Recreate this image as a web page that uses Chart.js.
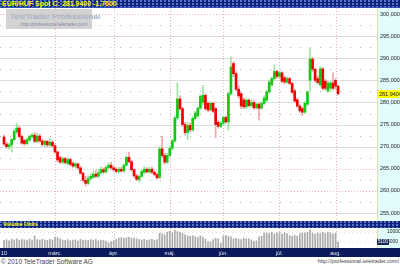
<!DOCTYPE html>
<html>
<head>
<meta charset="utf-8">
<script src="https://cdn.jsdelivr.net/npm/chart.js@4.4.1/dist/chart.umd.min.js"></script>
<style>
  html, body { margin: 0; padding: 0; background: #fff; }
  #wrap { position: relative; width: 400px; height: 266px; overflow: hidden; font-family: "Liberation Sans", Arial, sans-serif; }
  .navy { position: absolute; left: 0; width: 400px; background-color: #0d2278;
          background-image: radial-gradient(circle at 1px 1px, #5a72cc 0.7px, transparent 1px); background-size: 4px 3px; }
  #title { top: 0; height: 8px; border-bottom: 1px solid #3050b8; box-sizing: border-box; }
  #title span { position: absolute; left: 2px; top: 0; font: bold 7px "Liberation Sans", Arial, sans-serif; color: #ffff00; line-height: 7px; white-space: nowrap; }
  #plotBg { position: absolute; left: 0; top: 8px; width: 378px; height: 213px; background: #fff; }
  .panel { position: absolute; left: 377px; width: 22px; background: #e2fbfd; border-left: 1px solid #e6e0a0; border-right: 1px solid #0d2278; }
  #volHead { top: 221px; height: 7px; }
  #volHead span { position: absolute; left: 3px; top: 0; font: bold 5.5px "Liberation Sans", Arial, sans-serif; color: #ffff00; line-height: 7px; white-space: nowrap; }
  #volBg { position: absolute; left: 0; top: 228px; width: 378px; height: 20px; background: #fff; }
  #xBand { position: absolute; left: 0; top: 248px; width: 400px; height: 9px; background: #0a1a5c; }
  #mark { position: absolute; left: 6px; top: 9px; width: 86px; height: 20px; background: #d3d3d3; white-space: nowrap; }
  #mark b { position: absolute; left: 4px; top: 3px; font: bold 8px "Liberation Sans", Arial, sans-serif; color: #a6b0c6; }
  #mark i { position: absolute; left: 15px; top: 13px; font: normal 4.5px "Liberation Sans", Arial, sans-serif; color: #7f889e; }
  #footL, #footR { position: absolute; top: 258px; color: #444; white-space: nowrap; }
  #footL { left: 1px; font: 6.5px "Liberation Sans", Arial, sans-serif; }
  #footR { right: 1px; font: 5.5px "Liberation Sans", Arial, sans-serif; }
  canvas { position: absolute; left: 0; }
</style>
</head>
<body>
<div id="wrap">
  <div id="plotBg"></div>
  <div class="panel" style="top:8px;height:213px"></div>
  <div id="mark"><b>TeleTrader Professional</b><i>http://professional.teletrader.com/</i></div>
  <div id="volBg"></div>
  <div class="panel" style="top:228px;height:20px"></div>
  <div id="xBand"></div>
  <div class="navy" id="title"><span id="titleText"></span></div>
  <div class="navy" id="volHead"><span>Volume Units</span></div>
  <canvas id="price" width="400" height="213" style="top:8px"></canvas>
  <canvas id="vol" width="400" height="29" style="top:228px"></canvas>
  <div id="footL">© 2010 TeleTrader Software AG</div>
  <div id="footR">http://professional.teletrader.com/</div>
</div>
<script>
'use strict';

// daily EUR/HUF candles, 1 Feb – 3 Aug 2010
const openP = [
  272.2, 270.6, 270.0, 270.4, 271.6, 273.3, 274.2, 272.3, 271.4, 270.7, 271.5, 272.3, 272.6, 271.2, 272.4, 271.3, 270.5, 271.2, 270.4, 271.0,
  270.2, 268.8, 267.5, 266.5, 267.3, 266.2, 267.1, 266.2, 265.6, 266.1, 265.2, 264.0, 262.4, 261.7, 262.8, 263.1, 263.8, 263.3, 264.1, 264.8, 264.3, 265.3, 265.8,
  265.2, 264.9, 264.4, 264.9, 264.5, 265.8, 267.6, 266.6, 264.8, 263.4, 262.6, 263.3, 264.2, 264.9, 264.3, 264.9, 264.2, 263.7, 263.0, 269.5, 268.0, 266.5,
  268.0, 269.6, 271.3, 276.5, 280.8, 278.6, 275.0, 273.2, 274.8, 273.8, 276.4, 277.0, 278.7, 280.0, 281.6, 279.8, 278.3, 279.8, 278.6, 275.5, 274.6,
  275.3, 276.6, 275.6, 282.0, 288.8, 286.5, 283.0, 282.0, 280.6, 279.0, 280.5, 279.3, 280.0, 278.8, 279.6, 278.7, 279.8, 280.5, 282.4, 284.0, 285.4, 287.0,
  285.9, 286.7, 285.6, 284.6, 285.4, 284.3, 282.6, 280.6, 279.2, 278.6, 277.8, 279.6, 285.0, 289.8, 287.5, 285.4, 284.0, 287.6, 284.8, 282.6, 283.2, 284.4, 285.0, 283.7
];
const highP = [
  272.6, 271.0, 270.8, 271.9, 274.0, 275.3, 274.6, 272.6, 271.6, 272.0, 272.7, 273.0, 273.2, 273.0, 272.8, 271.6, 271.5, 271.4, 271.9, 271.5,
  270.5, 269.0, 267.8, 267.7, 267.6, 267.5, 267.3, 266.6, 266.5, 266.3, 265.5, 264.2, 263.3, 263.4, 263.9, 264.5, 264.6, 264.9, 265.4, 265.2, 265.6, 266.4, 266.5,
  265.6, 265.3, 265.3, 265.4, 266.2, 267.9, 268.8, 266.9, 265.0, 263.7, 263.6, 264.7, 265.5, 265.3, 265.3, 265.4, 264.6, 264.0, 270.0, 272.4, 268.5, 268.5,
  270.2, 271.7, 277.0, 284.4, 281.5, 279.0, 275.5, 275.5, 275.4, 276.8, 278.0, 279.0, 281.8, 283.9, 282.0, 280.2, 280.2, 280.1, 278.9, 275.9, 275.7,
  277.0, 276.9, 282.4, 290.3, 289.2, 286.9, 283.8, 282.3, 281.0, 281.0, 280.9, 280.6, 280.4, 280.0, 280.0, 280.2, 281.5, 282.8, 285.0, 285.8, 288.5, 287.3,
  287.1, 287.0, 286.0, 285.8, 285.7, 284.6, 283.0, 281.0, 279.5, 279.0, 280.2, 282.6, 292.3, 290.2, 287.8, 286.0, 288.1, 287.9, 285.2, 284.8, 284.8, 286.7, 285.4, 283.9
];
const lowP = [
  270.2, 269.6, 269.4, 268.8, 271.3, 272.8, 271.9, 270.5, 270.2, 270.4, 271.2, 271.8, 270.9, 270.9, 271.0, 270.1, 270.0, 269.9, 270.0, 269.8,
  268.5, 266.6, 266.2, 266.1, 266.0, 265.9, 265.7, 265.3, 265.2, 264.9, 263.8, 262.0, 261.1, 261.4, 262.4, 262.8, 263.0, 263.0, 263.8, 263.9, 264.0, 265.0, 264.9,
  264.4, 264.1, 264.0, 264.2, 264.2, 265.6, 266.3, 264.4, 263.0, 262.3, 262.0, 263.0, 263.9, 264.0, 264.0, 263.9, 263.4, 262.6, 262.8, 267.5, 266.0, 266.2,
  267.6, 269.2, 271.0, 276.0, 278.2, 274.6, 272.6, 271.6, 273.4, 273.5, 276.0, 276.7, 278.4, 279.5, 278.2, 277.9, 278.0, 277.7, 272.0, 274.2, 274.3,
  275.0, 275.3, 273.8, 281.6, 285.8, 282.6, 281.0, 278.6, 278.6, 278.6, 279.0, 279.0, 278.4, 278.4, 276.0, 278.5, 279.5, 280.2, 282.1, 283.6, 285.0, 285.5,
  285.4, 284.5, 284.2, 284.3, 284.0, 282.0, 280.0, 278.8, 277.7, 277.1, 277.5, 279.3, 282.6, 287.0, 284.6, 284.1, 283.5, 282.8, 282.8, 282.2, 282.4, 282.8, 283.0, 281.7
];
const closeP = [
  270.6, 270.0, 270.4, 271.6, 273.4, 274.2, 272.3, 270.8, 270.7, 271.6, 272.3, 272.6, 271.2, 272.4, 271.3, 270.5, 271.2, 270.4, 271.0, 270.2,
  268.8, 267.0, 266.5, 267.3, 266.4, 267.1, 266.0, 265.6, 266.1, 265.2, 264.0, 262.4, 261.7, 262.8, 263.3, 263.8, 263.3, 264.1, 264.8, 264.3, 265.3, 265.8, 265.2,
  264.8, 264.4, 264.9, 264.5, 265.8, 267.6, 266.6, 264.8, 263.4, 262.6, 263.3, 264.4, 264.9, 264.3, 264.9, 264.2, 263.7, 263.0, 269.5, 268.0, 266.5, 268.0,
  269.6, 271.3, 276.5, 280.8, 278.6, 275.0, 273.2, 274.8, 273.8, 276.4, 277.6, 278.7, 281.4, 281.6, 278.6, 278.3, 279.8, 278.0, 275.0, 274.6, 275.3,
  276.6, 275.6, 282.0, 288.0, 286.5, 283.0, 281.5, 279.2, 279.0, 280.5, 279.3, 280.0, 278.8, 279.6, 278.7, 279.8, 281.0, 282.4, 284.6, 285.4, 287.0, 285.9,
  286.7, 284.8, 284.6, 285.4, 284.3, 282.3, 280.3, 279.2, 278.1, 277.8, 279.8, 282.4, 289.8, 287.5, 285.0, 284.5, 287.6, 283.2, 283.2, 284.4, 284.4, 283.2, 283.7, 281.94
];
const volume = [
  5800, 6200, 5600, 6400, 6000, 6600, 5900, 6300, 6100, 5700, 6500, 6000, 8000, 6200, 5900, 6400, 6100, 5800, 6300, 6000,
  7400, 7200, 6600, 6000, 5800, 6200, 5600, 5900, 6100, 5500, 6300, 5800, 6000, 5700, 6200, 5900, 6400, 5600, 6000, 5800, 5500, 4400, 5200,
  5600, 6200, 7000, 7200, 6800, 7100, 7300, 6900, 7000, 6600, 6200, 6000, 6400, 5800, 6100, 6300, 5900, 6200, 9400, 9200, 8600, 9800,
  10400, 9600, 11000, 10200, 9800, 9400, 8600, 8000, 7800, 8200, 7600, 7200, 8000, 7400, 6400, 5200, 5000, 6200, 7000, 6600, 4300,
  8000, 8200, 7800, 7600, 6600, 6800, 6400, 6200, 6900, 6500, 6700, 6000, 5500, 5600, 7600, 7800, 9400, 9600, 9200, 9800, 9000, 9400,
  9700, 9000, 9600, 9200, 8200, 7800, 8400, 8000, 9200, 9600, 9400, 9800, 11000, 9400, 9000, 9600, 9200, 9800, 9400, 10000, 9600, 9000, 9400, 5100
];

// axes
const monthIdx = [0, 20, 43, 65, 86, 108, 130];
const monthLabels = ['10', 'márc.', 'ápr.', 'máj.', 'jún.', 'júl.', 'aug.'];
const priceTicks = [255, 260, 265, 270, 275, 280, 285, 290, 295, 300];
const minorTicks = [257.5, 262.5, 267.5, 272.5, 277.5, 282.5, 287.5, 292.5, 297.5];
const pinkTicks = [300, 265, 260];
const volTicks = [5000, 10000];

const X_MIN = -1.57, X_MAX = 146.66;
const FONT = '"Liberation Sans", Arial, sans-serif';
const days = closeP.map((_, i) => i);
const isUp = i => closeP[i] >= openP[i];

const last = closeP[closeP.length - 1], prev = closeP[closeP.length - 2];
document.getElementById('titleText').textContent =
  'EUR/HUF Spot C: ' + last.toFixed(4) + ' ' + (last - prev).toFixed(4);

// keep the plot area flush with the canvas edges
function noPad(s) { s.paddingTop = 0; s.paddingBottom = 0; s.paddingLeft = 0; s.paddingRight = 0; }

function hLine(ctx, a, py, colour, dash) {
  ctx.strokeStyle = colour; ctx.setLineDash(dash);
  ctx.beginPath(); ctx.moveTo(a.left, py); ctx.lineTo(a.right, py); ctx.stroke();
}
function vMonthLines(chart) {
  const { ctx, chartArea: a, scales: { x } } = chart;
  monthIdx.slice(1).forEach(i => {
    const px = Math.round(x.getPixelForValue(i)) + 0.5;
    ctx.strokeStyle = '#eab4b4'; ctx.setLineDash([1, 2]);
    ctx.beginPath(); ctx.moveTo(px, a.top); ctx.lineTo(px, a.bottom); ctx.stroke();
  });
}

const priceGrid = {
  id: 'priceGrid',
  beforeDatasetsDraw(chart) {
    const { ctx, chartArea: a, scales: { y } } = chart;
    ctx.save(); ctx.lineWidth = 1;
    minorTicks.forEach(v => hLine(ctx, a, Math.round(y.getPixelForValue(v)) + 0.5, '#b4b4b4', [1, 9]));
    priceTicks.forEach(v => {
      const py = Math.round(y.getPixelForValue(v)) + 0.5;
      if (pinkTicks.includes(v)) hLine(ctx, a, py, '#eab4b4', [1, 2]);
      else hLine(ctx, a, py, '#dcdcdc', []);
    });
    vMonthLines(chart);
    ctx.restore();
  },
  afterDraw(chart) {
    const { ctx, scales: { y } } = chart;
    const py = Math.round(y.getPixelForValue(last));
    ctx.save();
    ctx.fillStyle = '#ffff00'; ctx.fillRect(378, py - 4, 21, 8);
    ctx.fillStyle = '#111'; ctx.font = '5.5px ' + FONT; ctx.textBaseline = 'middle';
    ctx.fillText(last.toFixed(4), 379, py + 0.5);
    ctx.restore();
  }
};

const volGrid = {
  id: 'volGrid',
  beforeDatasetsDraw(chart) {
    const { ctx, chartArea: a, scales: { y } } = chart;
    ctx.save(); ctx.lineWidth = 1;
    volTicks.forEach(v => hLine(ctx, a, Math.round(y.getPixelForValue(v)) + 0.5, '#dcdcdc', [1, 3]));
    vMonthLines(chart);
    ctx.restore();
  },
  afterDraw(chart) {
    const { ctx, scales: { y } } = chart;
    const v = volume[volume.length - 1];
    const py = Math.round(y.getPixelForValue(v));
    ctx.save();
    ctx.fillStyle = '#1a2858'; ctx.fillRect(377, py - 3, 12, 6);
    ctx.fillStyle = '#fff'; ctx.font = '4.5px ' + FONT; ctx.textBaseline = 'middle';
    ctx.fillText(String(v), 378, py);
    ctx.restore();
  }
};

const baseOpts = {
  animation: false, responsive: false, maintainAspectRatio: false,
  layout: { padding: 0 },
  plugins: { legend: { display: false }, tooltip: { enabled: false } }
};

new Chart(document.getElementById('price'), {
  type: 'bar',
  data: {
    datasets: [
      { data: days.map(i => ({ x: i, y: [lowP[i], highP[i]] })), barThickness: 1, grouped: false, order: 2,
        backgroundColor: c => isUp(c.dataIndex) ? '#9fe39f' : '#f3a3a3' },
      { data: days.map(i => ({ x: i, y: [openP[i], closeP[i]] })), barThickness: 2, grouped: false, order: 1,
        backgroundColor: c => isUp(c.dataIndex) ? '#12c812' : '#f00000' }
    ]
  },
  options: Object.assign({}, baseOpts, {
    scales: {
      x: { type: 'linear', min: X_MIN, max: X_MAX, offset: false, display: false },
      y: {
        position: 'right', min: 253.19, max: 301.36,
        afterFit: s => { s.width = 22; noPad(s); },
        afterBuildTicks: s => { s.ticks = priceTicks.map(v => ({ value: v })); },
        grid: { display: false, drawTicks: false }, border: { display: false },
        ticks: { color: '#222', padding: 2, font: { size: 5.5, family: FONT },
                 callback: v => v.toFixed(4).replace('.', ',') }
      }
    }
  }),
  plugins: [priceGrid]
});

new Chart(document.getElementById('vol'), {
  type: 'bar',
  data: {
    datasets: [
      { data: days.map(i => ({ x: i, y: volume[i] })), barThickness: 1, backgroundColor: '#aaaaaa' }
    ]
  },
  options: Object.assign({}, baseOpts, {
    scales: {
      x: {
        type: 'linear', min: X_MIN, max: X_MAX, offset: false,
        afterFit: s => { s.height = 9; noPad(s); },
        afterBuildTicks: s => { s.ticks = monthIdx.map(v => ({ value: v })); },
        grid: { display: false, drawTicks: false }, border: { display: false },
        ticks: { color: '#e8e8f0', padding: 2, autoSkip: false, maxRotation: 0,
                 font: { size: 5.5, family: FONT }, callback: (v, idx) => monthLabels[idx] }
      },
      y: {
        position: 'right', min: 2000, max: 12000,
        afterFit: s => { s.width = 22; noPad(s); },
        afterBuildTicks: s => { s.ticks = volTicks.map(v => ({ value: v })); },
        grid: { display: false, drawTicks: false }, border: { display: false },
        ticks: { color: '#222', padding: 9, font: { size: 5, family: FONT }, callback: v => String(v) }
      }
    }
  }),
  plugins: [volGrid]
});
</script>
</body>
</html>
